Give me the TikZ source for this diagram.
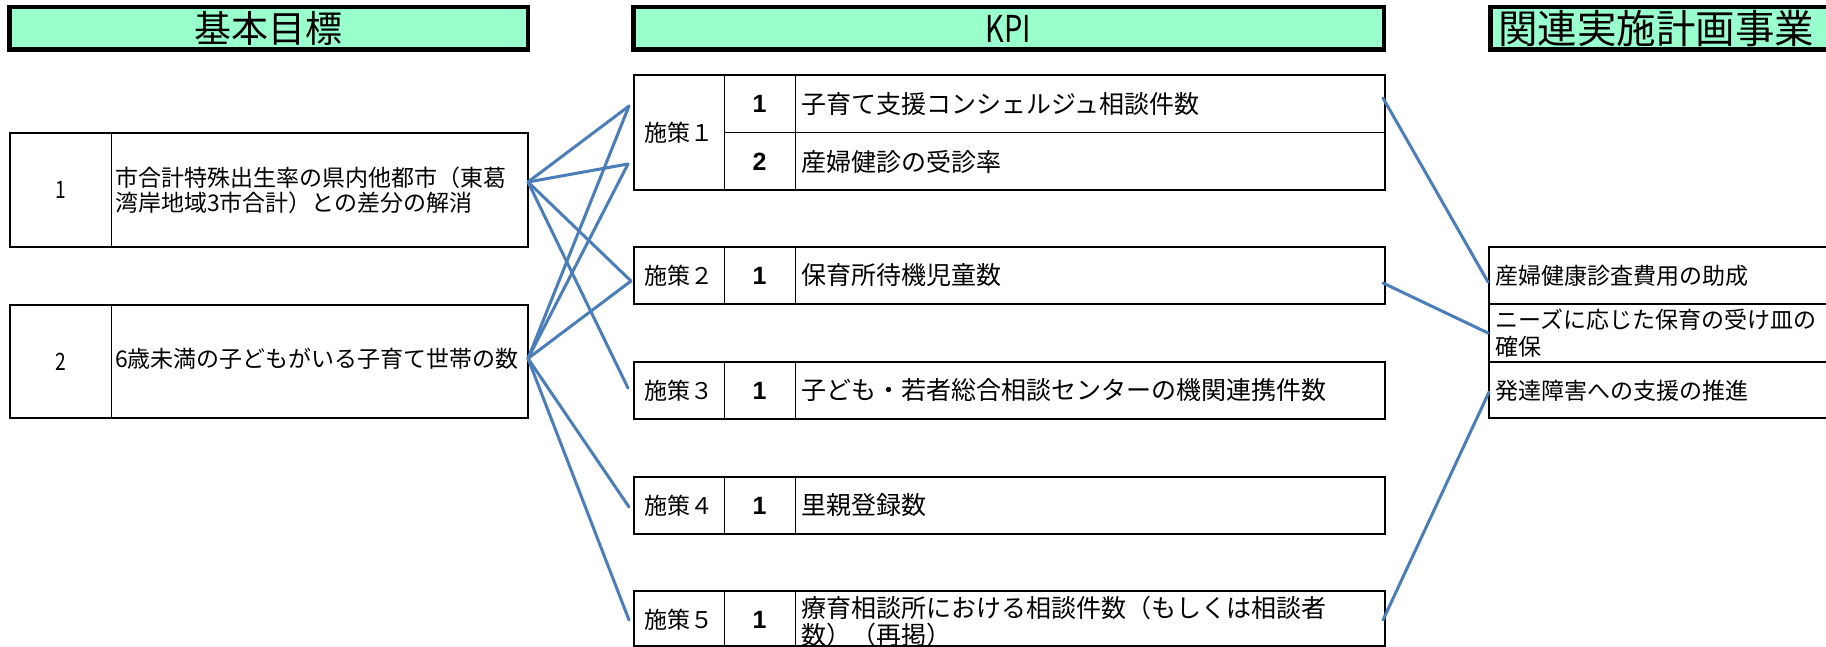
\documentclass[tikz,border=0pt]{standalone}
\usepackage{fontspec}
\setmainfont{Noto Sans CJK JP}
\newfontfamily\numfont{Liberation Sans}
\definecolor{hdrfill}{RGB}{153,255,204}
\definecolor{linkblue}{RGB}{74,126,187}
\begin{document}
\begin{tikzpicture}[x=1pt,y=-1pt,
  hdr/.style={draw=black, line width=4.5pt, fill=hdrfill, inner sep=0pt, outer sep=0pt, anchor=north west},
  box/.style={draw=black, line width=2.2pt, inner sep=0pt, outer sep=0pt, anchor=north west},
  div/.style={draw=black, line width=1pt},
  link/.style={draw=linkblue, line width=3pt, line cap=round},
  hdrtext/.style={inner sep=0pt, font=\fontsize{37}{40}\selectfont},
  gtext/.style={inner sep=0pt, anchor=west, align=left, font=\fontsize{23}{25}\selectfont},
  gnum/.style={inner sep=0pt, font=\fontsize{24}{26}\selectfont},
  klabel/.style={inner sep=0pt, font=\fontsize{23}{25}\selectfont},
  knum/.style={inner sep=0pt, font=\numfont\bfseries\fontsize{25}{27}\selectfont},
  ktext/.style={inner sep=0pt, anchor=west, align=left, font=\fontsize{25}{27}\selectfont},
  rtext/.style={inner sep=0pt, anchor=west, align=left, font=\fontsize{23}{27}\selectfont}]
\useasboundingbox (0,0) rectangle (1826,647);
\clip (0,0) rectangle (1826,647);
\fill[white] (0,0) rectangle (1826,647);

% headers
\node[hdr, minimum width=518.5pt, minimum height=42.5pt] (h1) at (9.25,7.25) {};
\node[hdrtext] (h1t) at (h1.center) {基本目標};
\node[hdr, minimum width=750.5pt, minimum height=42.5pt] (h2) at (633.25,7.25) {};
\node[hdrtext] (h2t) at (h2.center) {\scalebox{0.78}[1]{KPI}};
\node[hdr, minimum width=352pt, minimum height=42.5pt] (h3) at (1490.25,7.25) {};
\node[hdrtext, font=\fontsize{39.5}{42}\selectfont] (h3t) at (1656,28.5) {関連実施計画事業};

% basic goals
\node[box, minimum width=518pt, minimum height=114pt] (g1) at (10,133) {};
\draw[div] (111,133) -- (111,247);
\node[gnum] (g1n) at (60.5,190) {\scalebox{0.8}[1]{1}};
\node[gtext] (g1t) at (115,190) {市合計特殊出生率の県内他都市（東葛\\湾岸地域3市合計）との差分の解消};

\node[box, minimum width=518pt, minimum height=113pt] (g2) at (10,305) {};
\draw[div] (111,305) -- (111,418);
\node[gnum] (g2n) at (60.5,361.5) {\scalebox{0.8}[1]{2}};
\node[gtext] (g2t) at (115,359) {6歳未満の子どもがいる子育て世帯の数};

% KPI boxes
\node[box, minimum width=751pt, minimum height=115pt] (k1) at (634,75) {};
\draw[div] (724,75) -- (724,190);
\draw[div] (795,75) -- (795,190);
\draw[div] (724,133) -- (1385,133);
\node[klabel] (k1l) at (679,132.5) {施策１};
\node[knum] (k1n1) at (759.5,104) {1};
\node[knum] (k1n2) at (759.5,161.5) {2};
\node[ktext] (k1t1) at (801,104) {子育て支援コンシェルジュ相談件数};
\node[ktext] (k1t2) at (801,161.5) {産婦健診の受診率};

\node[box, minimum width=751pt, minimum height=57pt] (k2) at (634,247) {};
\draw[div] (724,247) -- (724,304);
\draw[div] (795,247) -- (795,304);
\node[klabel] (k2l) at (679,275.5) {施策２};
\node[knum] (k2n) at (759.5,275.5) {1};
\node[ktext] (k2t) at (801,275.5) {保育所待機児童数};

\node[box, minimum width=751pt, minimum height=57pt] (k3) at (634,362) {};
\draw[div] (724,362) -- (724,419);
\draw[div] (795,362) -- (795,419);
\node[klabel] (k3l) at (679,390.5) {施策３};
\node[knum] (k3n) at (759.5,390.5) {1};
\node[ktext] (k3t) at (801,390.5) {子ども・若者総合相談センターの機関連携件数};

\node[box, minimum width=751pt, minimum height=57pt] (k4) at (634,477) {};
\draw[div] (724,477) -- (724,534);
\draw[div] (795,477) -- (795,534);
\node[klabel] (k4l) at (679,505.5) {施策４};
\node[knum] (k4n) at (759.5,505.5) {1};
\node[ktext] (k4t) at (801,505.5) {里親登録数};

\node[box, minimum width=751pt, minimum height=55pt] (k5) at (634,591) {};
\draw[div] (724,591) -- (724,646);
\draw[div] (795,591) -- (795,646);
\node[klabel] (k5l) at (679,620) {施策５};
\node[knum] (k5n) at (759.5,620) {1};
\node[ktext] (k5t) at (801,621.5) {療育相談所における相談件数（もしくは相談者\\数）（再掲）};

% related projects
\node[box, minimum width=360pt, minimum height=57pt] (r1) at (1489,247) {};
\node[rtext] (r1t) at (1495,276) {産婦健康診査費用の助成};
\node[box, minimum width=360pt, minimum height=58pt] (r2) at (1489,304) {};
\node[rtext] (r2t) at (1495,333.5) {ニーズに応じた保育の受け皿の\\確保};
\node[box, minimum width=360pt, minimum height=56pt] (r3) at (1489,362) {};
\node[rtext] (r3t) at (1495,391) {発達障害への支援の推進};

% connector end points
\coordinate (g1o) at ([yshift=8pt]g1.east);
\coordinate (g2o) at ([yshift=3pt]g2.east);
\coordinate (k1a) at ([xshift=-5pt,yshift=26.5pt]k1.west);
\coordinate (k1b) at ([xshift=-6pt,yshift=-31.5pt]k1.west);
\coordinate (k2i) at ([xshift=-3pt,yshift=-5.5pt]k2.west);
\coordinate (k3i) at ([xshift=-6pt,yshift=2.5pt]k3.west);
\coordinate (k4i) at ([xshift=-5pt,yshift=-1.5pt]k4.west);
\coordinate (k5i) at ([xshift=-5pt,yshift=-1.5pt]k5.west);
\coordinate (k1o) at ([xshift=-2pt,yshift=34.5pt]k1.east);
\coordinate (k2o) at ([xshift=-2pt,yshift=-7.5pt]k2.east);
\coordinate (k5o) at ([xshift=-2pt,yshift=-1.5pt]k5.east);
\coordinate (r1i) at ([xshift=-1pt,yshift=-6.5pt]r1.west);
\coordinate (r2i) at ([xshift=-1pt]r2.west);
\coordinate (r3i) at ([yshift=-2pt]r3.west);

% connectors
\draw[link] (g1o) -- (k1a);
\draw[link] (g1o) -- (k1b);
\draw[link] (g1o) -- (k2i);
\draw[link] (g1o) -- (k3i);
\draw[link] (g2o) -- (k1a);
\draw[link] (g2o) -- (k1b);
\draw[link] (g2o) -- (k2i);
\draw[link] (g2o) -- (k4i);
\draw[link] (g2o) -- (k5i);
\draw[link] (k1o) -- (r1i);
\draw[link] (k2o) -- (r2i);
\draw[link] (k5o) -- (r3i);
\end{tikzpicture}
\end{document}
